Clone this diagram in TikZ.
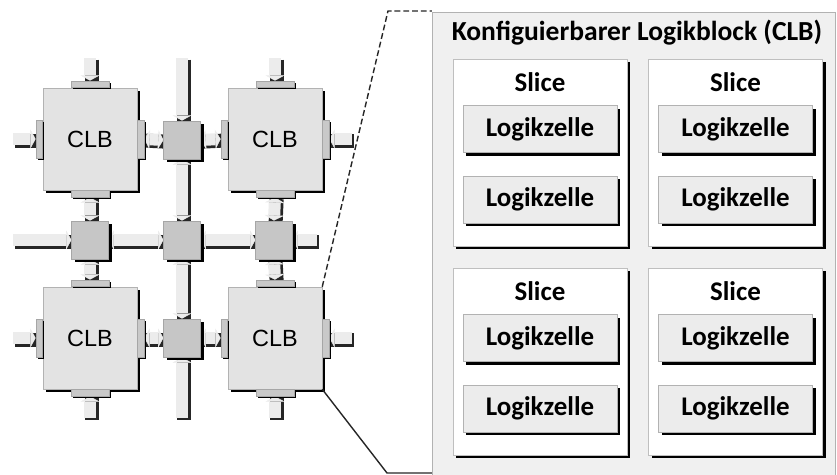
\documentclass[tikz,border=0pt]{standalone}
\usepackage{fontspec}
\setmainfont{Carlito}
\newfontfamily\arialfont{Liberation Sans}
\usetikzlibrary{arrows.meta, positioning, shadows, backgrounds}

\begin{document}
\begin{tikzpicture}[
        x=0.03cm, y=-0.03cm,
        boxshadow/.style={
            drop shadow={shadow xshift=2.8pt, shadow yshift=-2.8pt,
                opacity=1, fill=black}
        },
        clb/.style={
            draw=gray!60, fill=gray!22,
            minimum width=2.82cm, minimum height=3.06cm,
            font=\arialfont\fontsize{20}{24}\selectfont,
            boxshadow
        },
        switchbox/.style={
            draw=gray!70, fill=gray!45,
            minimum width=1.1cm, minimum height=1.15cm,
            boxshadow
        },
        padh/.style={
            draw=gray!70, fill=gray!42, inner sep=0pt,
            minimum width=1.14cm, minimum height=0.2cm,
            drop shadow={shadow xshift=1.5pt, shadow yshift=-1.5pt,
                opacity=1, fill=black}
        },
        padv/.style={padh, minimum width=0.2cm, minimum height=1.14cm},
        busback/.style={
            line width=0.42cm, draw=black!85,
            transform canvas={shift={(1.4pt,-1.4pt)}}
        },
        bus/.style={
            line width=0.36cm, draw=gray!15,
            >={Triangle[width=0.58cm, length=0.16cm, line width=0.4pt]}
        },
        clbframe/.style={
            draw=gray!60, fill=gray!12,
            minimum width=12.09cm, minimum height=13.98cm
        },
        slicebox/.style={
            draw=gray!50, fill=white,
            minimum width=5.22cm, minimum height=5.61cm,
            boxshadow
        },
        zelle/.style={
            draw=gray!60, fill=gray!15,
            minimum width=4.62cm, minimum height=1.41cm,
            font=\bfseries\fontsize{23}{27}\selectfont,
            boxshadow
        },
        labeltext/.style={font=\bfseries\fontsize{23}{27}\selectfont},
        titletext/.style={font=\bfseries\fontsize{23.5}{27}\selectfont},
        zoomline/.style={line width=1.2pt, draw=black!85}
    ]
    \useasboundingbox (0,0) rectangle (837,475);

    % CLB-Raster
    \node[clb] (clb11) at (90,139) {CLB};
    \node[clb] (clb12) at (275,139) {CLB};
    \node[clb] (clb21) at (90,338) {CLB};
    \node[clb] (clb22) at (275,338) {CLB};

    \node[switchbox] (swtop) at (182,140) {};
    \node[switchbox] (swleft) at (90,240) {};
    \node[switchbox] (swmid) at (182,240) {};
    \node[switchbox] (swright) at (274,240) {};
    \node[switchbox] (swbot) at (182,338) {};

    \foreach \c in {clb11, clb12, clb21, clb22} {
        \node[padh, anchor=south] (\c n) at (\c.north) {};
        \node[padh, anchor=north] (\c s) at (\c.south) {};
        \node[padv, anchor=east] (\c w) at (\c.west) {};
        \node[padv, anchor=west] (\c e) at (\c.east) {};
    }

    \coordinate (topA) at (90,58);
    \coordinate (topB) at (182,58);
    \coordinate (topC) at (275,58);
    \coordinate (botA) at (90,418);
    \coordinate (botB) at (182,418);
    \coordinate (botC) at (275,418);
    \coordinate (leftA) at (13,139);
    \coordinate (leftB) at (13,240);
    \coordinate (leftC) at (13,338);
    \coordinate (rightA) at (352,139);
    \coordinate (rightB) at (317,240);
    \coordinate (rightC) at (352,338);

    % Leitungen
    \begin{scope}[on background layer]
        \foreach \a/\b in {clb11e.east/swtop.west, swtop.east/clb12w.west,
                clb21e.east/swbot.west, swbot.east/clb22w.west,
                clb11s.south/swleft.north, swleft.south/clb21n.north,
                clb12s.south/swright.north, swright.south/clb22n.north,
                swtop.south/swmid.north, swmid.south/swbot.north,
                swleft.east/swmid.west, swmid.east/swright.west} {
            \draw[busback] (\a) -- (\b);
            \draw[bus, <->] (\a) -- (\b);
        }
        \foreach \a/\b in {topA/clb11n.north, topC/clb12n.north,
                topB/swtop.north, botB/swbot.south,
                botA/clb21s.south, botC/clb22s.south,
                leftA/clb11w.west, leftC/clb21w.west, leftB/swleft.west,
                rightA/clb12e.east, rightC/clb22e.east, rightB/swright.east} {
            \draw[busback] (\a) -- (\b);
            \draw[bus, ->] (\a) -- (\b);
        }
    \end{scope}

    % Aufbau eines CLB
    \node[clbframe] (clbbox) at (633.5,245) {};
    \node[titletext] (title) at (637,33)
        {Konfiguierbarer Logikblock (CLB)};

    \foreach \n/\x/\y in {a/540/152.5, b/735.5/152.5, c/540/361.5, d/735.5/361.5} {
        \node[slicebox] (slice\n) at (\x,\y) {};
        \node[labeltext] (label\n) at (\x,\y-70.5) {Slice};
        \node[zelle] (zelle\n1) at (\x,\y-23.5) {Logikzelle};
        \node[zelle] (zelle\n2) at (\x,\y+47) {Logikzelle};
    }

    \coordinate (kinkup) at (388,11);
    \coordinate (kinkdown) at (387,473);
    \draw[zoomline, dash pattern=on 5pt off 2.5pt]
        (clb22.north east) -- (kinkup) -- (kinkup -| clbbox.west);
    \draw[zoomline] (clb22.south east) -- (kinkdown) -- (kinkdown -| clbbox.west);

\end{tikzpicture}
\end{document}
